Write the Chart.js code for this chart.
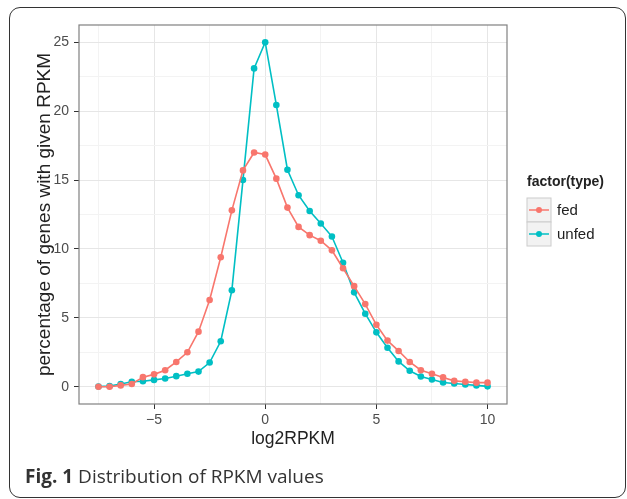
<!DOCTYPE html>
<html>
<head>
<meta charset="utf-8">
<script src="https://cdn.jsdelivr.net/npm/chart.js@4"></script>
<style>
  body { margin: 0; background: #fff; }
  #wrap { position: relative; width: 627px; height: 499px; overflow: hidden; }
  #frame { position: absolute; left: 9px; top: 7px; width: 617px; height: 491px;
           border: 1.5px solid #333; border-radius: 11px; box-sizing: border-box; pointer-events: none; }
  #caption { position: absolute; left: 25px; top: 463px; font: 19px "Open Sans", sans-serif; color: #333; }
  #caption b { font-weight: 700; }
</style>
</head>
<body>
<div id="wrap">
  <canvas id="rpkmChart" width="627" height="499"></canvas>
  <div id="frame"></div>
  <div id="caption"><b>Fig. 1</b> Distribution of RPKM values</div>
</div>
<script>
const log2rpkm = [-7.5, -7, -6.5, -6, -5.5, -5, -4.5, -4, -3.5, -3, -2.5, -2, -1.5, -1, -0.5, 0,
                  0.5, 1, 1.5, 2, 2.5, 3, 3.5, 4, 4.5, 5, 5.5, 6, 6.5, 7, 7.5, 8, 8.5, 9, 9.5, 10];
const fed = [0, 0, 0.1, 0.2, 0.7, 0.9, 1.2, 1.8, 2.5, 4.0, 6.3, 9.4, 12.8, 15.7, 17.0, 16.85,
             15.1, 13.0, 11.6, 11.0, 10.6, 9.9, 8.6, 7.3, 6.0, 4.5, 3.35, 2.6, 1.8, 1.2, 0.95,
             0.68, 0.43, 0.36, 0.3, 0.3];
const unfed = [0.02, 0.05, 0.2, 0.36, 0.4, 0.5, 0.6, 0.77, 0.94, 1.1, 1.76, 3.3, 7.0, 15.0, 23.1, 25.0,
               20.45, 15.75, 13.9, 12.75, 11.85, 10.9, 9.0, 6.85, 5.3, 3.95, 2.83, 1.84, 1.16, 0.75,
               0.53, 0.31, 0.24, 0.17, 0.1, 0.03];
const xTicks = [-7.5, -5, -2.5, 0, 2.5, 5, 7.5, 10];
const yTicks = [0, 2.5, 5, 7.5, 10, 12.5, 15, 17.5, 20, 22.5, 25];

const FED = '#F8766D', UNFED = '#00BFC4';
const tickFont = { family: '"Liberation Sans", Arial, sans-serif', size: 14 };

function isMajor(v, step) { return Math.abs(v / step - Math.round(v / step)) < 1e-6; }

const panelAndLegend = {
  id: 'panelAndLegend',
  afterDraw(chart) {
    const { ctx, chartArea: a } = chart;
    ctx.save();
    ctx.strokeStyle = '#808080';
    ctx.lineWidth = 1.2;
    ctx.strokeRect(a.left, a.top, a.right - a.left, a.bottom - a.top);

    // legend
    const lx = 527, ly = 198, k = 24;
    ctx.fillStyle = '#222';
    ctx.font = 'bold 14px "Liberation Sans", Arial, sans-serif';
    ctx.textBaseline = 'middle';
    ctx.fillText('factor(type)', lx, 182);
    [['fed', FED], ['unfed', UNFED]].forEach(([name, col], i) => {
      const y = ly + i * k;
      ctx.fillStyle = '#f2f2f2';
      ctx.fillRect(lx, y, k, k);
      ctx.strokeStyle = '#cccccc';
      ctx.lineWidth = 1;
      ctx.strokeRect(lx, y, k, k);
      ctx.strokeStyle = col;
      ctx.lineWidth = 1.5;
      ctx.beginPath();
      ctx.moveTo(lx + 2, y + k / 2);
      ctx.lineTo(lx + k - 2, y + k / 2);
      ctx.stroke();
      ctx.fillStyle = col;
      ctx.beginPath();
      ctx.arc(lx + k / 2, y + k / 2, 3, 0, Math.PI * 2);
      ctx.fill();
      ctx.fillStyle = '#222';
      ctx.font = '15px "Liberation Sans", Arial, sans-serif';
      ctx.fillText(name, lx + k + 6, y + k / 2 + 1);
    });
    ctx.restore();
  }
};

new Chart(document.getElementById('rpkmChart'), {
  type: 'line',
  data: {
    datasets: [
      {
        label: 'fed',
        data: log2rpkm.map((x, i) => ({ x: x, y: fed[i] })),
        borderColor: FED,
        backgroundColor: FED,
        borderWidth: 1.6,
        pointRadius: 3.3,
        pointBorderWidth: 0
      },
      {
        label: 'unfed',
        data: log2rpkm.map((x, i) => ({ x: x, y: unfed[i] })),
        borderColor: UNFED,
        backgroundColor: UNFED,
        borderWidth: 1.6,
        pointRadius: 3.3,
        pointBorderWidth: 0
      }
    ]
  },
  options: {
    responsive: false,
    animation: false,
    layout: { padding: { left: 0, top: 25, right: 120, bottom: 0 } },
    plugins: { legend: { display: false }, tooltip: { enabled: false } },
    scales: {
      x: {
        type: 'linear',
        min: -8.375,
        max: 10.875,
        afterBuildTicks: s => { s.ticks = xTicks.map(v => ({ value: v })); },
        afterFit: s => { s.height = 95; },
        border: { display: false },
        grid: {
          color: c => isMajor(c.tick.value, 5) ? '#e6e6e6' : '#f3f3f3',
          tickColor: c => isMajor(c.tick.value, 5) ? '#333' : 'rgba(0,0,0,0)',
          tickLength: 5,
          lineWidth: 1
        },
        ticks: {
          autoSkip: false,
          maxRotation: 0,
          padding: 3,
          color: '#4d4d4d',
          font: tickFont,
          callback: v => isMajor(v, 5) ? String(v).replace('-', '\u2212') : ''
        },
        title: {
          display: true,
          text: 'log2RPKM',
          color: '#222',
          font: { family: '"Liberation Sans", Arial, sans-serif', size: 17.5 },
          padding: { top: 0, bottom: 49 }
        }
      },
      y: {
        min: -1.25,
        max: 26.25,
        afterBuildTicks: s => { s.ticks = yTicks.map(v => ({ value: v })); },
        afterFit: s => { s.width = 79; },
        border: { display: false },
        grid: {
          color: c => isMajor(c.tick.value, 5) ? '#e6e6e6' : '#f3f3f3',
          tickColor: c => isMajor(c.tick.value, 5) ? '#333' : 'rgba(0,0,0,0)',
          tickLength: 5,
          lineWidth: 1
        },
        ticks: {
          autoSkip: false,
          padding: 5,
          color: '#4d4d4d',
          font: tickFont,
          callback: v => isMajor(v, 5) ? String(v) : ''
        },
        title: {
          display: true,
          text: 'percentage of genes with given RPKM',
          color: '#222',
          font: { family: '"Liberation Sans", Arial, sans-serif', size: 19 },
          padding: { top: 33, bottom: 0 }
        }
      }
    }
  },
  plugins: [panelAndLegend]
});
</script>
</body>
</html>
